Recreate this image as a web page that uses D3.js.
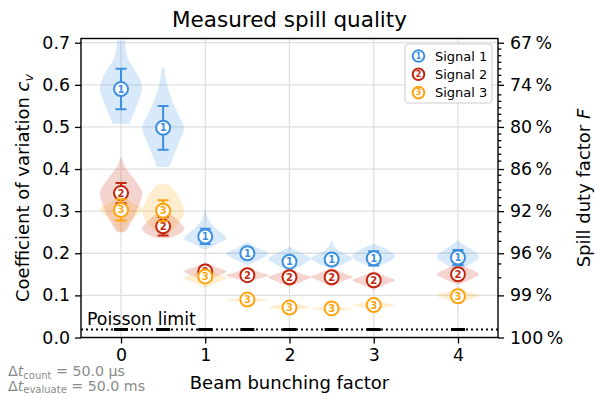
<!DOCTYPE html>
<html>
<head>
<meta charset="utf-8">
<script src="https://cdn.jsdelivr.net/npm/d3@7"></script>
<style>
  body { margin: 0; background: #fff; }
  svg text { font-family: "DejaVu Sans", sans-serif; }
</style>
</head>
<body>
<svg id="chart" width="595" height="399"></svg>
<script>
// bunching factors where the spill was measured
const positions = [0, 0.5, 1, 1.5, 2, 2.5, 3, 4];
const signalNames = ['Signal 1', 'Signal 2', 'Signal 3'];
const signalColors = ['#3d8fe0', '#c2260d', '#ffa40f'];

// mean coefficient of variation and its error per position
const cvSignal1 = [0.59, 0.498, 0.24, 0.2, 0.18, 0.185, 0.188, 0.19];
const errSignal1 = [0.048, 0.052, 0.018, 0.01, 0.01, 0.01, 0.017, 0.018];
const cvSignal2 = [0.343, 0.264, 0.157, 0.148, 0.143, 0.143, 0.136, 0.15];
const errSignal2 = [0.024, 0.022, 0.01, 0.008, 0.008, 0.008, 0.008, 0.008];
const cvSignal3 = [0.303, 0.301, 0.145, 0.09, 0.071, 0.069, 0.077, 0.098];
const errSignal3 = [0.025, 0.025, 0.008, 0.005, 0.005, 0.005, 0.005, 0.005];

// violin outlines: [cv, relative density] from top to bottom
const violinSignal1 = [
    [[0.705, 0.2], [0.68, 0.24], [0.66, 0.35], [0.64, 0.6], [0.615, 0.88], [0.59, 1.0], [0.57, 0.9], [0.55, 0.75], [0.53, 0.58], [0.507, 0.4]],
    [[0.642, 0.06], [0.6, 0.19], [0.557, 0.48], [0.522, 0.8], [0.498, 1.0], [0.463, 0.75], [0.424, 0.44], [0.405, 0.29]],
    [[0.303, 0.02], [0.28, 0.16], [0.26, 0.48], [0.243, 0.9], [0.235, 1.0], [0.222, 0.55], [0.21, 0.12]],
    [[0.226, 0.03], [0.212, 0.5], [0.2, 1.0], [0.188, 0.7], [0.178, 0.3], [0.172, 0.03]],
    [[0.215, 0.03], [0.2, 0.6], [0.188, 1.0], [0.175, 0.7], [0.163, 0.25], [0.157, 0.03]],
    [[0.23, 0.02], [0.215, 0.15], [0.2, 0.55], [0.188, 1.0], [0.175, 0.6], [0.165, 0.05]],
    [[0.222, 0.03], [0.21, 0.6], [0.195, 1.0], [0.185, 0.9], [0.175, 0.5], [0.167, 0.05]],
    [[0.23, 0.03], [0.215, 0.45], [0.2, 0.9], [0.19, 1.0], [0.175, 0.6], [0.16, 0.05]]
];
const violinSignal2 = [
    [[0.427, 0.03], [0.41, 0.14], [0.399, 0.28], [0.368, 0.75], [0.344, 1.0], [0.311, 0.83], [0.28, 0.55], [0.256, 0.28], [0.25, 0.15]],
    [[0.3, 0.15], [0.285, 0.55], [0.27, 0.85], [0.258, 1.0], [0.248, 0.85], [0.24, 0.5], [0.236, 0.35]],
    [[0.178, 0.03], [0.168, 0.45], [0.157, 1.0], [0.147, 0.6], [0.14, 0.3], [0.133, 0.05]],
    [[0.168, 0.03], [0.156, 0.5], [0.148, 1.0], [0.14, 0.55], [0.132, 0.03]],
    [[0.163, 0.03], [0.152, 0.55], [0.143, 1.0], [0.133, 0.6], [0.121, 0.03]],
    [[0.165, 0.03], [0.152, 0.6], [0.144, 1.0], [0.133, 0.5], [0.12, 0.03]],
    [[0.156, 0.03], [0.145, 0.6], [0.136, 1.0], [0.126, 0.55], [0.114, 0.03]],
    [[0.175, 0.03], [0.162, 0.6], [0.15, 1.0], [0.138, 0.6], [0.126, 0.03]]
];
const violinSignal3 = [
    [[0.335, 0.1], [0.322, 0.5], [0.31, 0.95], [0.302, 1.0], [0.29, 0.75], [0.275, 0.4], [0.26, 0.2], [0.25, 0.08]],
    [[0.364, 0.25], [0.343, 0.63], [0.319, 0.87], [0.3, 1.0], [0.276, 0.8], [0.258, 0.5], [0.248, 0.3]],
    [[0.166, 0.03], [0.155, 0.4], [0.145, 0.9], [0.14, 1.0], [0.13, 0.5], [0.118, 0.03]],
    [[0.097, 0.03], [0.092, 0.6], [0.089, 1.0], [0.086, 0.6], [0.082, 0.03]],
    [[0.086, 0.03], [0.078, 0.5], [0.072, 1.0], [0.067, 0.5], [0.062, 0.03]],
    [[0.08, 0.03], [0.073, 0.4], [0.068, 1.0], [0.064, 0.45], [0.059, 0.03]],
    [[0.089, 0.03], [0.082, 0.5], [0.077, 1.0], [0.071, 0.5], [0.065, 0.03]],
    [[0.12, 0.03], [0.108, 0.5], [0.1, 1.0], [0.09, 0.5], [0.079, 0.03]]
];

const poissonLimit = 0.019;
const xTicks = [0, 1, 2, 3, 4];
const yTicks = [0, 0.1, 0.2, 0.3, 0.4, 0.5, 0.6, 0.7];
const dutyMinorPercent = [68, 69, 70, 71, 72, 73, 75, 76, 77, 78, 79, 81, 82, 83, 84, 85, 87, 88, 89, 90, 91, 93, 94, 95, 97, 98];

const signals = [
    { cv: cvSignal1, err: errSignal1, violins: violinSignal1 },
    { cv: cvSignal2, err: errSignal2, violins: violinSignal2 },
    { cv: cvSignal3, err: errSignal3, violins: violinSignal3 }
];

const margin = { left: 81, right: 97, top: 38.5, bottom: 61.5 };
const width = 595, height = 399;
const tickFont = 17.4, labelFont = 18;
const svg = d3.select('#chart');

const x = d3.scaleLinear().domain([-0.475, 4.475]).range([margin.left, width - margin.right]);
const y = d3.scaleLinear().domain([0, 0.71]).range([height - margin.bottom, margin.top]);
const violinHalf = 0.25;

// duty factor F = 1 / (1 + cv^2)
const dutyFromCv = cv => 1 / (1 + cv * cv);
const cvFromDuty = f => Math.sqrt(1 / f - 1);

svg.append('rect').attr('width', width).attr('height', height).attr('fill', '#fff');

// grid
const grid = svg.append('g').attr('stroke', '#e0e0e0').attr('stroke-width', 1.3);
grid.selectAll('.gx').data(xTicks).join('line')
    .attr('x1', d => x(d)).attr('x2', d => x(d))
    .attr('y1', y.range()[0]).attr('y2', y.range()[1]);
grid.selectAll('.gy').data(yTicks).join('line')
    .attr('y1', d => y(d)).attr('y2', d => y(d))
    .attr('x1', x.range()[0]).attr('x2', x.range()[1]);

const plot = svg.append('g');
svg.append('clipPath').attr('id', 'clip').append('rect')
    .attr('x', x.range()[0]).attr('y', y.range()[1])
    .attr('width', x.range()[1] - x.range()[0]).attr('height', y.range()[0] - y.range()[1]);
plot.attr('clip-path', 'url(#clip)');

// violins
signals.forEach((s, si) => {
    s.violins.forEach((profile, pi) => {
        const pos = positions[pi];
        const area = d3.area()
            .y(d => y(d[0]))
            .x0(d => x(pos - d[1] * violinHalf))
            .x1(d => x(pos + d[1] * violinHalf))
            .curve(d3.curveCatmullRom.alpha(0.5));
        plot.append('path')
            .attr('d', area(profile))
            .attr('fill', signalColors[si])
            .attr('fill-opacity', 0.2);
    });
});

// Poisson limit
plot.append('line')
    .attr('x1', x.range()[0]).attr('x2', x.range()[1])
    .attr('y1', y(poissonLimit)).attr('y2', y(poissonLimit))
    .attr('stroke', '#000').attr('stroke-width', 2).attr('stroke-dasharray', '2,3');
plot.selectAll('.plim').data(positions).join('line')
    .attr('x1', d => x(d) - 7).attr('x2', d => x(d) + 7)
    .attr('y1', y(poissonLimit)).attr('y2', y(poissonLimit))
    .attr('stroke', '#000').attr('stroke-width', 3);
svg.append('text')
    .attr('x', 87).attr('y', y(poissonLimit) - 4)
    .attr('font-size', tickFont).text('Poisson limit');

function drawMarker (g, cx, cy, r, color, label, fontSize) {
    g.append('circle').attr('cx', cx).attr('cy', cy).attr('r', r)
        .attr('fill', '#fff').attr('stroke', color).attr('stroke-width', 2);
    g.append('text').attr('x', cx).attr('y', cy)
        .attr('text-anchor', 'middle').attr('dominant-baseline', 'central')
        .attr('font-size', fontSize).attr('font-weight', 'bold')
        .attr('fill', color).text(label);
}

// error bars and markers
signals.forEach((s, si) => {
    const color = signalColors[si];
    const g = plot.append('g');
    positions.forEach((pos, pi) => {
        const px = x(pos);
        const top = y(s.cv[pi] + s.err[pi]);
        const bot = y(s.cv[pi] - s.err[pi]);
        g.append('line').attr('x1', px).attr('x2', px).attr('y1', top).attr('y2', bot)
            .attr('stroke', color).attr('stroke-width', 2);
        [top, bot].forEach(v => {
            g.append('line').attr('x1', px - 5.5).attr('x2', px + 5.5).attr('y1', v).attr('y2', v)
                .attr('stroke', color).attr('stroke-width', 2);
        });
    });
    positions.forEach((pos, pi) => {
        drawMarker(g, x(pos), y(s.cv[pi]), 7, color, String(si + 1), 10);
    });
});

// axes
const fmt = d3.format('.1f');
svg.append('g')
    .attr('transform', `translate(${x.range()[0]},0)`)
    .call(d3.axisLeft(y).tickValues(yTicks).tickFormat(fmt).tickSize(6).tickPadding(5));
svg.append('g')
    .attr('transform', `translate(0,${y.range()[0]})`)
    .call(d3.axisBottom(x).tickValues(xTicks).tickFormat(d3.format('d')).tickSize(6).tickPadding(5));
svg.append('g')
    .attr('transform', `translate(${x.range()[1]},0)`)
    .call(d3.axisRight(y).tickValues(yTicks)
        .tickFormat(d => Math.round(100 * dutyFromCv(d)) + '\u2009%')
        .tickSize(6).tickPadding(6));
svg.append('g')
    .attr('transform', `translate(${x.range()[1]},0)`)
    .call(d3.axisRight(y).tickValues(dutyMinorPercent.map(p => cvFromDuty(p / 100)))
        .tickFormat('').tickSize(3.4));
svg.selectAll('.domain').remove();
svg.selectAll('.tick text').attr('font-size', tickFont).attr('fill', '#000')
    .attr('font-family', '"DejaVu Sans", sans-serif');
svg.selectAll('.tick line').attr('stroke', '#000').attr('stroke-width', 1.3);

svg.append('rect')
    .attr('x', x.range()[0]).attr('y', y.range()[1])
    .attr('width', x.range()[1] - x.range()[0]).attr('height', y.range()[0] - y.range()[1])
    .attr('fill', 'none').attr('stroke', '#000').attr('stroke-width', 1.4);

// legend
const legend = svg.append('g').attr('transform', 'translate(405,44)');
legend.append('rect').attr('width', 87).attr('height', 59).attr('rx', 3)
    .attr('fill', '#fff').attr('fill-opacity', 0.8).attr('stroke', '#cccccc');
signalNames.forEach((name, i) => {
    const ly = 12 + i * 18.3;
    drawMarker(legend, 13.5, ly, 5.8, signalColors[i], String(i + 1), 8);
    legend.append('text').attr('x', 30).attr('y', ly).attr('dominant-baseline', 'central')
        .attr('font-size', 13).text(name);
});

// titles and labels
const cx = (x.range()[0] + x.range()[1]) / 2;
const cy = (y.range()[0] + y.range()[1]) / 2;
svg.append('text').attr('x', cx).attr('y', 27).attr('text-anchor', 'middle')
    .attr('font-size', 21.5).text('Measured spill quality');
svg.append('text').attr('x', cx).attr('y', 389).attr('text-anchor', 'middle')
    .attr('font-size', labelFont).text('Beam bunching factor');

const ylab = svg.append('text').attr('transform', `translate(29,${cy}) rotate(-90)`)
    .attr('text-anchor', 'middle').attr('font-size', labelFont);
ylab.append('tspan').text('Coefficient of variation ');
ylab.append('tspan').attr('font-style', 'italic').text('c');
ylab.append('tspan').attr('font-style', 'italic').attr('font-size', 12.6).attr('dy', 3.5).text('v');

const y2lab = svg.append('text').attr('transform', `translate(590,${cy}) rotate(-90)`)
    .attr('text-anchor', 'middle').attr('font-size', labelFont);
y2lab.append('tspan').text('Spill duty factor ');
y2lab.append('tspan').attr('font-style', 'italic').text('F');

// time resolution note
const notes = [['count', '50.0 µs'], ['evaluate', '50.0 ms']];
notes.forEach((n, i) => {
    const t = svg.append('text').attr('x', 8).attr('y', 376 + i * 14.5)
        .attr('font-size', 14.2).attr('fill', '#8a8a8a');
    t.append('tspan').text('Δ');
    t.append('tspan').attr('font-style', 'italic').text('t');
    t.append('tspan').attr('font-size', 10).attr('dy', 2.5).text(n[0]);
    t.append('tspan').attr('dy', -2.5).text(' = ' + n[1]);
});
</script>
</body>
</html>
